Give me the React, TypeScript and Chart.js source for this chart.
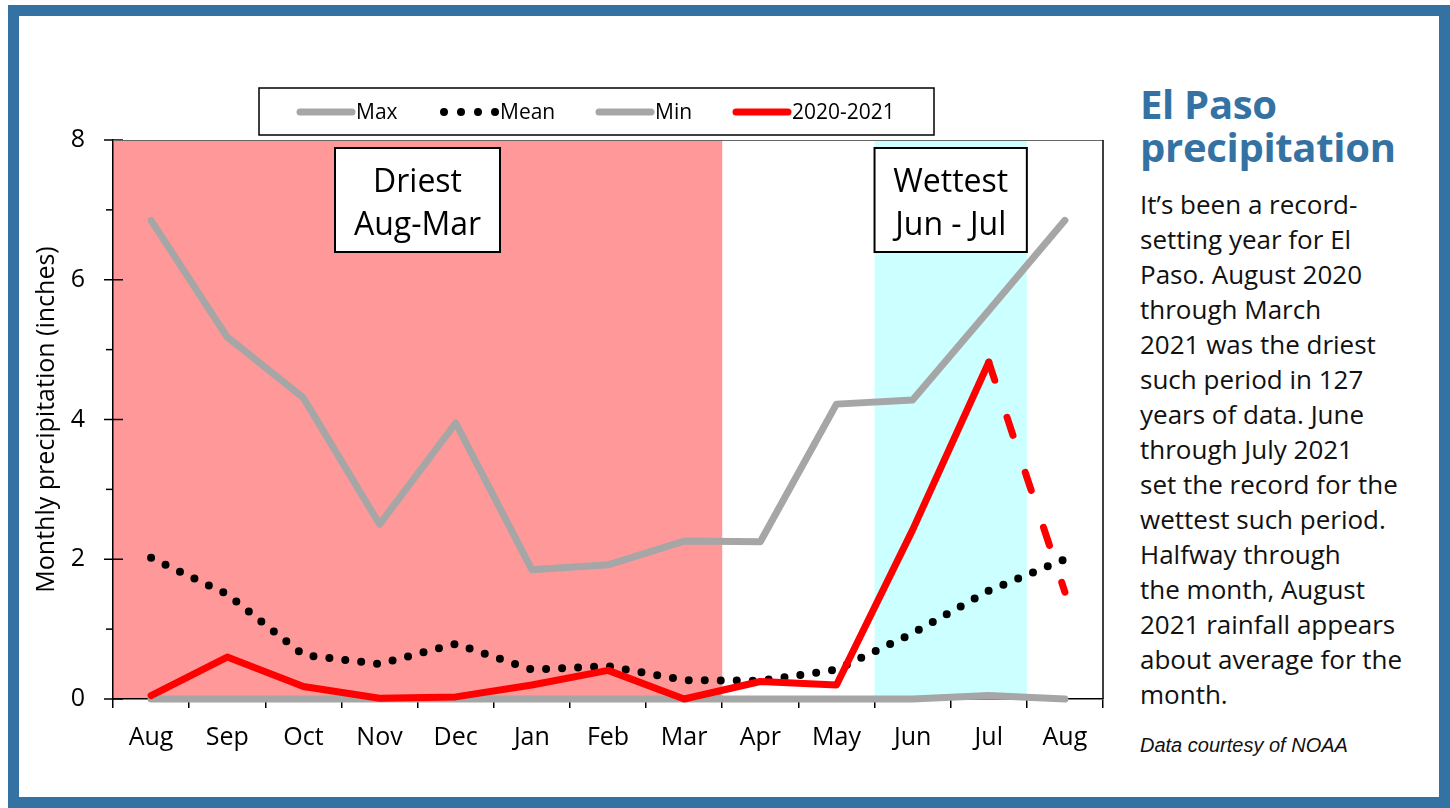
import React, { useEffect, useRef } from "react";
import { Chart, registerables } from "chart.js";

Chart.register(...registerables);

const MONTHS = ["Aug", "Sep", "Oct", "Nov", "Dec", "Jan", "Feb", "Mar", "Apr", "May", "Jun", "Jul", "Aug"];
const MAX_VALUES = [6.85, 5.18, 4.31, 2.5, 3.95, 1.85, 1.92, 2.26, 2.25, 4.22, 4.28, 5.56, 6.85];
const MEAN_VALUES = [2.02, 1.5, 0.63, 0.5, 0.79, 0.42, 0.47, 0.27, 0.26, 0.42, 0.94, 1.55, 2.0];
const MIN_VALUES = [0, 0, 0, 0, 0, 0, 0, 0, 0, 0, 0, 0.05, 0];
const Y2021_VALUES = [0.05, 0.6, 0.18, 0.01, 0.03, 0.2, 0.41, 0, 0.25, 0.2, 2.42, 4.82, 1.53];
const Y_MAJOR_TICKS = [0, 2, 4, 6, 8];
const Y_MINOR_TICKS = [1, 3, 5, 7];
const DRIEST_RANGE = [0, 7];
const WETTEST_RANGE = [10, 11];
const DASHED_FROM_INDEX = 11;

const FONT = "'Open Sans', 'Noto Sans', sans-serif";
const BLUE = "#3572a4";
const GRAY = "#a6a6a6";

const BODY_LINES = [
  "It\u2019s been a record-",
  "setting year for El",
  "Paso. August 2020",
  "through March",
  "2021 was the driest",
  "such period in 127",
  "years of data. June",
  "through July 2021",
  "set the record for the",
  "wettest such period.",
  "Halfway through",
  "the month, August",
  "2021 rainfall appears",
  "about average for the",
  "month.",
];

const bandPlugin = {
  id: "bands",
  beforeDraw(chart: any) {
    const { ctx, chartArea, scales } = chart;
    const x = scales.x;
    const half = (x.getPixelForValue(1) - x.getPixelForValue(0)) / 2;
    const band = (range: number[], color: string) => {
      const l = x.getPixelForValue(range[0]) - half;
      const r = x.getPixelForValue(range[1]) + half;
      ctx.save();
      ctx.fillStyle = color;
      ctx.fillRect(l, chartArea.top, r - l, chartArea.bottom - chartArea.top);
      ctx.restore();
    };
    band(DRIEST_RANGE, "#ff9999");
    band(WETTEST_RANGE, "#ccffff");
  },
  beforeDatasetsDraw(chart: any) {
    const { ctx, chartArea, scales } = chart;
    const x = scales.x;
    const y = scales.y;
    const half = (x.getPixelForValue(1) - x.getPixelForValue(0)) / 2;
    ctx.save();
    ctx.strokeStyle = "#000";
    ctx.lineWidth = 1.5;
    Y_MAJOR_TICKS.forEach((v) => {
      const py = y.getPixelForValue(v);
      ctx.beginPath();
      ctx.moveTo(chartArea.left - 9, py);
      ctx.lineTo(chartArea.left + 10, py);
      ctx.stroke();
    });
    Y_MINOR_TICKS.forEach((v) => {
      const py = y.getPixelForValue(v);
      ctx.beginPath();
      ctx.moveTo(chartArea.left - 7, py);
      ctx.lineTo(chartArea.left, py);
      ctx.stroke();
    });
    const box = (l: number, t: number, w: number, h: number, lines: string[]) => {
      ctx.fillStyle = "#fff";
      ctx.fillRect(l, t, w, h);
      ctx.strokeStyle = "#000";
      ctx.lineWidth = 2;
      ctx.strokeRect(l, t, w, h);
      ctx.fillStyle = "#000";
      ctx.font = `32px ${FONT}`;
      ctx.textAlign = "center";
      ctx.textBaseline = "alphabetic";
      ctx.fillText(lines[0], l + w / 2, t + 44);
      ctx.fillText(lines[1], l + w / 2, t + 87);
    };
    box(335, chartArea.top + 8, 165, 104, ["Driest", "Aug-Mar"]);
    const wl = x.getPixelForValue(WETTEST_RANGE[0]) - half;
    const wr = x.getPixelForValue(WETTEST_RANGE[1]) + half;
    box(wl, chartArea.top + 8, wr - wl, 104, ["Wettest", "Jun - Jul"]);
    ctx.restore();
  },
  afterDraw(chart: any) {
    const { ctx, chartArea } = chart;
    ctx.save();
    ctx.strokeStyle = "#666";
    ctx.lineWidth = 1;
    ctx.beginPath();
    ctx.moveTo(chartArea.left, chartArea.top + 0.5);
    ctx.lineTo(chartArea.right, chartArea.top + 0.5);
    ctx.stroke();
    ctx.strokeStyle = "#000";
    ctx.lineWidth = 1.5;
    ctx.beginPath();
    ctx.moveTo(chartArea.right, chartArea.top);
    ctx.lineTo(chartArea.right, chartArea.bottom);
    ctx.stroke();
    // legend
    ctx.fillStyle = "#fff";
    ctx.fillRect(259, 88, 675, 47);
    ctx.strokeStyle = "#000";
    ctx.lineWidth = 1.5;
    ctx.strokeRect(259, 88, 675, 47);
    const starts = [297, 441, 596, 733];
    const cy = 112;
    chart.data.datasets.forEach((ds: any, i: number) => {
      const sx = starts[i];
      ctx.save();
      ctx.strokeStyle = ds.borderColor;
      ctx.lineWidth = ds.borderWidth;
      ctx.lineCap = "round";
      ctx.setLineDash(ds.legendDash || []);
      ctx.beginPath();
      ctx.moveTo(sx + 3, cy);
      ctx.lineTo(sx + 55, cy);
      ctx.stroke();
      ctx.restore();
      ctx.fillStyle = "#000";
      ctx.font = `21px ${FONT}`;
      ctx.textAlign = "left";
      ctx.textBaseline = "middle";
      ctx.fillText(ds.label, sx + 59, cy + 1);
    });
    ctx.restore();
  },
};

export default function App() {
  const ref = useRef<HTMLCanvasElement | null>(null);

  useEffect(() => {
    if (!ref.current) return;
    const chart = new Chart(ref.current, {
      type: "line",
      data: {
        labels: MONTHS,
        datasets: [
          {
            label: "Max",
            data: MAX_VALUES,
            borderColor: GRAY,
            borderWidth: 7,
            order: 3,
            clip: false,
          } as any,
          {
            label: "Mean",
            data: MEAN_VALUES,
            borderColor: "#000",
            borderWidth: 8,
            borderDash: [0, 16],
            legendDash: [0, 17],
            order: 1,
            clip: false,
          } as any,
          {
            label: "Min",
            data: MIN_VALUES,
            borderColor: GRAY,
            borderWidth: 7,
            order: 2,
            clip: false,
          } as any,
          {
            label: "2020-2021",
            data: Y2021_VALUES,
            borderColor: "#ff0000",
            borderWidth: 7,
            order: 0,
            clip: false,
            segment: {
              borderDash: (c: any) => (c.p0DataIndex === DASHED_FROM_INDEX ? [19, 39] : undefined),
            },
          } as any,
        ],
      },
      options: {
        animation: false,
        responsive: false,
        devicePixelRatio: 1,
        layout: { padding: { left: 30, right: 7, top: 140, bottom: 0 } },
        elements: {
          point: { radius: 0, hoverRadius: 0 },
          line: { borderCapStyle: "round", borderJoinStyle: "round", tension: 0 },
        },
        plugins: {
          legend: { display: false },
          tooltip: { enabled: false },
        },
        scales: {
          x: {
            offset: true,
            grid: {
              offset: true,
              drawOnChartArea: false,
              drawTicks: true,
              tickLength: 9,
              color: "#000",
              lineWidth: 1.5,
            },
            border: { display: true, color: "#000", width: 1.5 },
            ticks: {
              color: "#000",
              font: { family: FONT, size: 25 },
              padding: 15,
              maxRotation: 0,
            },
            afterFit: (scale: any) => {
              scale.height = 109;
            },
          },
          y: {
            min: 0,
            max: 8,
            ticks: {
              stepSize: 2,
              color: "#000",
              font: { family: FONT, size: 25 },
              padding: 28,
            },
            grid: { drawOnChartArea: false, drawTicks: false },
            border: { display: true, color: "#000", width: 1.5 },
            title: {
              display: true,
              text: "Monthly precipitation (inches)",
              color: "#000",
              font: { family: FONT, size: 25 },
              padding: { top: 2, bottom: 0 },
            },
            afterFit: (scale: any) => {
              scale.width = 83;
            },
          },
        },
      },
      plugins: [bandPlugin],
    });
    return () => chart.destroy();
  }, []);

  return (
    <div>
      <div
        style={{
          position: "absolute",
          left: 8,
          top: 5,
          width: 1442,
          height: 803,
          boxSizing: "border-box",
          border: `11px solid ${BLUE}`,
          background: "#fff",
        }}
      />
      <canvas
        ref={ref}
        width={1110}
        height={808}
        style={{ position: "absolute", left: 0, top: 0, width: 1110, height: 808 }}
      />
      <div
        style={{
          position: "absolute",
          left: 1140,
          top: 82,
          fontFamily: FONT,
          fontWeight: 700,
          fontSize: 40,
          lineHeight: "43px",
          color: BLUE,
          whiteSpace: "pre",
          letterSpacing: "-0.3px",
        }}
      >
        {"El Paso\nprecipitation"}
      </div>
      <div
        style={{
          position: "absolute",
          left: 1140,
          top: 187,
          fontFamily: FONT,
          fontSize: 26,
          lineHeight: "35px",
          color: "#111",
          whiteSpace: "pre",
        }}
      >
        {BODY_LINES.join("\n")}
      </div>
      <div
        style={{
          position: "absolute",
          left: 1140,
          top: 732,
          fontFamily: "'Liberation Sans', 'DejaVu Sans', sans-serif",
          fontStyle: "italic",
          fontWeight: 400,
          fontSize: 20,
          lineHeight: "26px",
          color: "#111",
          whiteSpace: "pre",
        }}
      >
        Data courtesy of NOAA
      </div>
    </div>
  );
}
